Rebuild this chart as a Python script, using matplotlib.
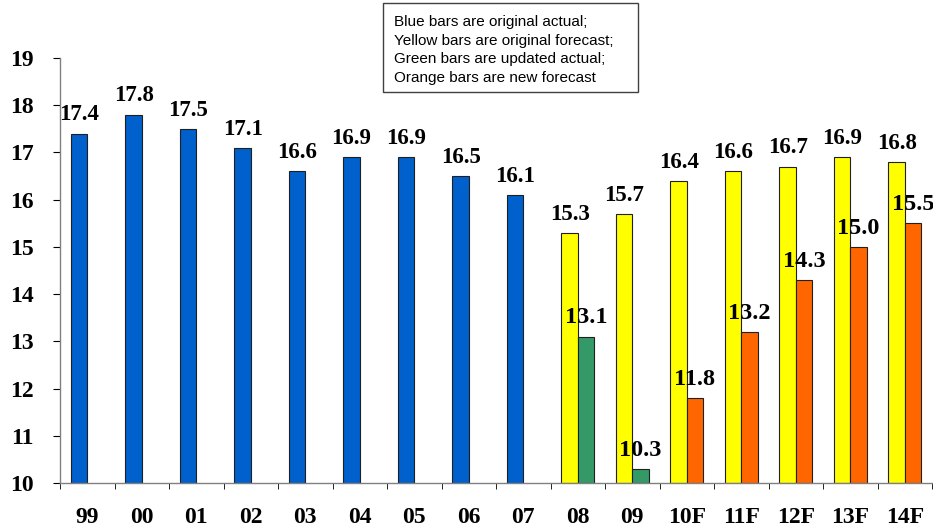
import numpy as np
import matplotlib
matplotlib.use("Agg")
import matplotlib.pyplot as plt
from matplotlib.patches import Rectangle

categories = ["99", "00", "01", "02", "03", "04", "05", "06", "07",
              "08", "09", "10F", "11F", "12F", "13F", "14F"]
blue_vals = [17.4, 17.8, 17.5, 17.1, 16.6, 16.9, 16.9, 16.5, 16.1]
yellow_vals = [15.3, 15.7, 16.4, 16.6, 16.7, 16.9, 16.8]
green_vals = [13.1, 10.3]
orange_vals = [11.8, 13.2, 14.3, 15.0, 15.5]
note = ("Blue bars are original actual;\n"
        "Yellow bars are original forecast;\n"
        "Green bars are updated actual;\n"
        "Orange bars are new forecast")

serif = "Liberation Serif"
w = 0.3
base = 10

fig = plt.figure(figsize=(9.33, 5.29), dpi=100)
ax = fig.add_axes([60 / 933, 46 / 529, 872 / 933, 425 / 529])

x = np.arange(len(categories))
xb = x[:len(blue_vals)]
xy = x[len(blue_vals):]
xg = xy[:len(green_vals)]
xo = xy[len(green_vals):]


def bars(xs, vals, color, size):
    h = np.array(vals) - base
    ax.bar(xs, h, width=w, bottom=base, color=color, edgecolor="#202020",
           linewidth=0.8, zorder=2)
    for xi, v in zip(xs, vals):
        ax.annotate(f"{v:.1f}", (xi, v), xytext=(0, 9.5),
                    textcoords="offset points", ha="center", va="baseline",
                    fontsize=size, fontweight="bold", family=serif, zorder=3)


bars(xb - w / 2, blue_vals, "#0060CC", 16.5)
bars(xy - w / 2, yellow_vals, "#FFFF00", 16.5)
bars(xg + w / 2, green_vals, "#339966", 17.5)
bars(xo + w / 2, orange_vals, "#FF6600", 17.5)

ax.set_xlim(-0.5, len(categories) - 0.5)
ax.set_ylim(10, 19)
ax.set_yticks(range(10, 20))
ax.set_xticks(x)
ax.set_xticklabels(categories)
ax.set_xticks(np.arange(-0.5, len(categories)), minor=True)
ax.tick_params(axis="x", which="major", length=0, pad=17)
ax.tick_params(axis="x", which="minor", length=4.5, direction="out")
ax.tick_params(axis="y", length=5, direction="out", pad=14)
for lab in ax.get_xticklabels() + ax.get_yticklabels():
    lab.set_family(serif)
    lab.set_fontweight("bold")
    lab.set_fontsize(17)

for s in ["top", "right"]:
    ax.spines[s].set_visible(False)
for s in ["left", "bottom"]:
    ax.spines[s].set_color("#808080")
    ax.spines[s].set_linewidth(1)

fig.patches.append(Rectangle((383 / 933, 1 - 92 / 529), 255 / 933, 89 / 529,
                             transform=fig.transFigure, fill=False,
                             edgecolor="#404040", linewidth=1))
fig.text(394 / 933, 1 - 50 / 529, note, family="Liberation Sans",
         fontsize=11, va="center", ha="left", linespacing=1.45)

fig.savefig("out.png", dpi=100)
